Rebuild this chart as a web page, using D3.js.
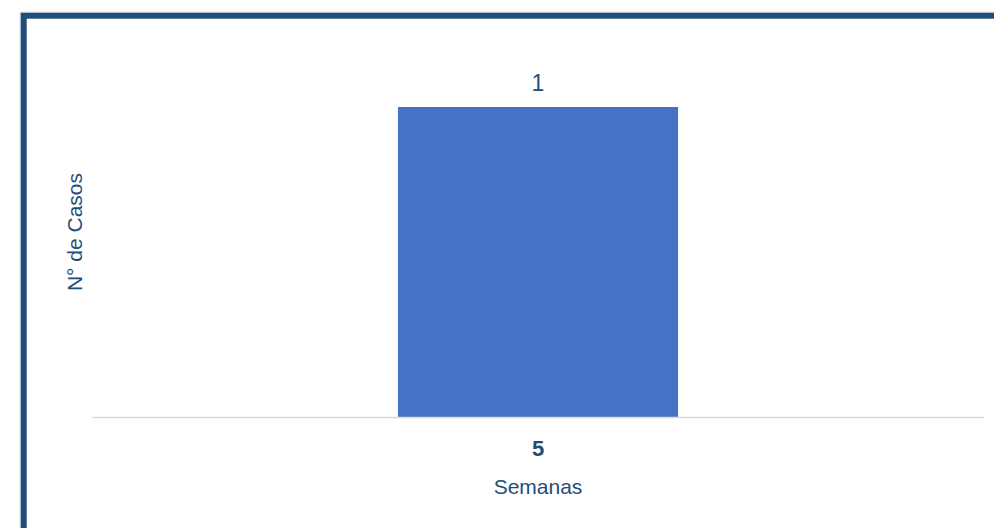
<!DOCTYPE html>
<html><head><meta charset="utf-8">
<script src="https://cdn.jsdelivr.net/npm/d3@7"></script>
<style>html,body{margin:0;padding:0;background:#fff;overflow:hidden}</style>
</head><body>
<script>
const categories = ["5"];
const values = [1];
const xTitle = "Semanas";
const yTitle = "N° de Casos";

const W = 994, H = 528;
const svg = d3.select("body").append("svg").attr("width", W).attr("height", H)
  .style("font-family", "'Liberation Sans', Arial, sans-serif");

// outer faint line and thick frame
svg.append("rect").attr("x", 20).attr("y", 12).attr("width", 1100).attr("height", 700)
  .attr("fill", "none").attr("stroke", "#e3e3e3").attr("stroke-width", 1);
svg.append("rect").attr("x", 23.7).attr("y", 15.7).attr("width", 1100).attr("height", 700)
  .attr("fill", "none").attr("stroke", "#1F4E79").attr("stroke-width", 6);

const left = 92, right = 984, base = 417, topV = 107;
const x = d3.scaleBand().domain(categories).range([left, right]).padding(0.522);
const y = d3.scaleLinear().domain([0, 1]).range([base, topV]);

svg.selectAll(".bar").data(values).join("rect")
  .attr("x", (d, i) => x(categories[i]))
  .attr("y", d => y(d))
  .attr("width", x.bandwidth())
  .attr("height", d => y(0) - y(d))
  .attr("fill", "#4472C4");

svg.selectAll(".lbl").data(values).join("text")
  .attr("x", (d, i) => x(categories[i]) + x.bandwidth() / 2)
  .attr("y", d => y(d) - 16)
  .attr("text-anchor", "middle")
  .attr("font-size", 23).attr("fill", "#1F4E79")
  .text(d => d);

// x axis
const ax = svg.append("g").attr("transform", `translate(0,${base})`)
  .call(d3.axisBottom(x).tickSize(0).tickPadding(0));
ax.select(".domain").attr("stroke", "#d9d9d9").attr("stroke-width", 1.5);
ax.selectAll("text").attr("font-size", 22).attr("font-weight", "bold")
  .attr("fill", "#1F4E79").attr("dy", null).attr("y", 39)
  .attr("font-family", "'Liberation Sans', Arial, sans-serif");

svg.append("text").attr("x", (left + right) / 2).attr("y", 494)
  .attr("text-anchor", "middle").attr("font-size", 21).attr("fill", "#1F4E79")
  .text(xTitle);

svg.append("text").attr("transform", `translate(82,232) rotate(-90)`)
  .attr("text-anchor", "middle").attr("font-size", 21).attr("fill", "#1F4E79")
  .text(yTitle);
</script>
</body></html>
